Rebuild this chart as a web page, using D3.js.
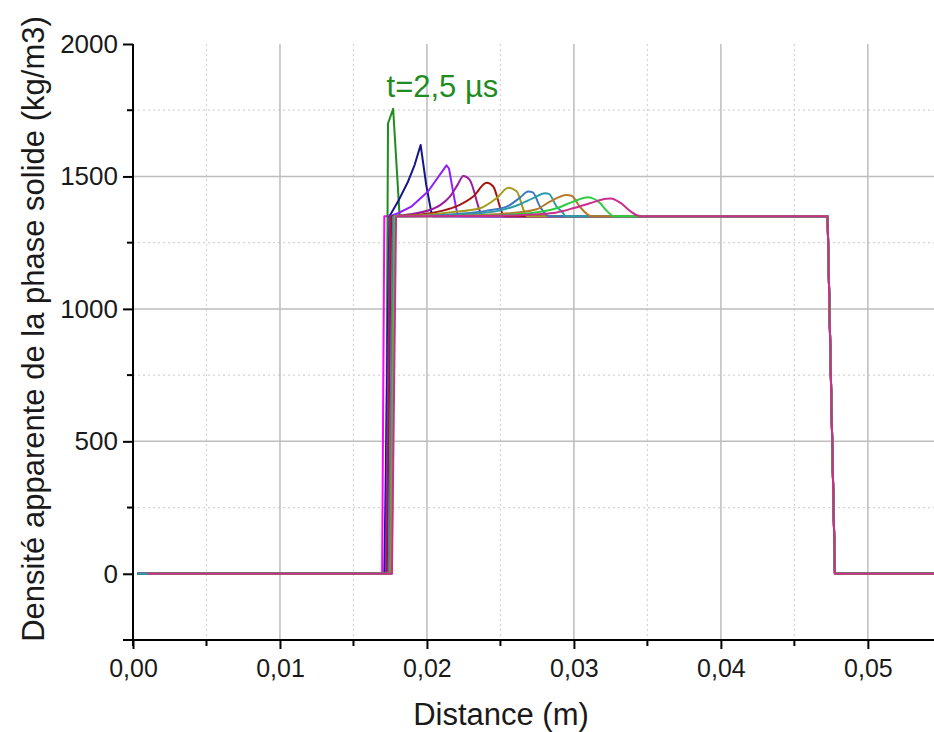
<!DOCTYPE html>
<html>
<head>
<meta charset="utf-8">
<script src="https://cdn.jsdelivr.net/npm/d3@7"></script>
<style>
  html, body { margin: 0; padding: 0; background: #ffffff; }
  svg { display: block; }
  text { font-family: "Liberation Sans", Arial, sans-serif; fill: #1a1a1a; }
</style>
</head>
<body>
<svg id="chart" width="934" height="732"></svg>
<script>
// ---------- data ----------
const xTicks = [0, 0.01, 0.02, 0.03, 0.04, 0.05];
const xTickLabels = ["0,00", "0,01", "0,02", "0,03", "0,04", "0,05"];
const xMinorTicks = [0.005, 0.015, 0.025, 0.035, 0.045];
const yTicks = [0, 500, 1000, 1500, 2000];
const yTickLabels = ["0", "500", "1000", "1500", "2000"];
const yMinorTicks = [-250, 250, 750, 1250, 1750];

const seriesNames = ["t=0", "t=2,5 µs", "s2", "s3", "s4", "s5", "s6", "s7", "s8", "s9", "s10", "s11"];
const seriesColors = ["#ff00ff", "#1e8c1e", "#14148c", "#9020ff", "#9c1c9c", "#a31515",
                      "#a39c1c", "#3a78c0", "#2a9ca8", "#b8782a", "#2ecc40", "#cc2e8c"];
// curves whose wave part is drawn smoothly (the later, rounded ones)
const smoothWave = [false, false, false, false, true, true, true, true, true, true, true, true];

// x (m) and density (kg/m3), one pair of arrays per curve
const s0x = [0.0003, 0.01695, 0.0171, 0.04726, 0.04776, 0.0545];
const s0y = [0, 0, 1350, 1350, 0, 0];
const s1x = [0.0003, 0.0172, 0.01735, 0.0177, 0.01814, 0.04726, 0.04776, 0.0545];
const s1y = [0, 0, 1700, 1755, 1350, 1350, 0, 0];
const s2x = [0.0003, 0.0171, 0.01745, 0.01803, 0.01871, 0.01916, 0.01957, 0.01995, 0.02029, 0.02041, 0.04726, 0.04776, 0.0545];
const s2y = [0, 0, 1350, 1405, 1480, 1543, 1619, 1468, 1367, 1350, 1350, 0, 0];
const s3x = [0.0003, 0.0172, 0.0175, 0.01803, 0.01893, 0.02007, 0.02133, 0.0215, 0.02184, 0.02206, 0.02218, 0.04726, 0.04776, 0.0545];
const s3y = [0, 0, 1350, 1361, 1386, 1443, 1542, 1530, 1424, 1361, 1350, 1350, 0, 0];
const s4x = [0.0003, 0.01725, 0.0175, 0.019, 0.0205, 0.0209, 0.02156, 0.0221, 0.02247, 0.0229, 0.02361, 0.02374, 0.04726, 0.04776, 0.0545];
const s4y = [0, 0, 1350, 1358, 1380, 1392, 1424, 1470, 1502, 1488, 1367, 1350, 1350, 0, 0];
const s5x = [0.0003, 0.0173, 0.0176, 0.0196, 0.021, 0.0222, 0.02315, 0.02406, 0.02451, 0.02508, 0.02524, 0.04726, 0.04776, 0.0545];
const s5y = [0, 0, 1350, 1356, 1370, 1392, 1424, 1476, 1462, 1367, 1350, 1350, 0, 0];
const s6x = [0.0003, 0.0174, 0.0177, 0.02, 0.0215, 0.02361, 0.02474, 0.02555, 0.0261, 0.02667, 0.0268, 0.04726, 0.04776, 0.0545];
const s6y = [0, 0, 1350, 1355, 1364, 1380, 1418, 1457, 1444, 1361, 1350, 1350, 0, 0];
const s7x = [0.0003, 0.0174, 0.0177, 0.0205, 0.0225, 0.024, 0.0255, 0.02633, 0.02689, 0.0272, 0.02769, 0.02814, 0.0283, 0.04726, 0.04776, 0.0545];
const s7y = [0, 0, 1350, 1353, 1360, 1370, 1388, 1420, 1443, 1440, 1386, 1355, 1350, 1350, 0, 0];
const s8x = [0.0003, 0.0175, 0.0178, 0.021, 0.023, 0.025, 0.0262, 0.02723, 0.02803, 0.0283, 0.02882, 0.02927, 0.0294, 0.04726, 0.04776, 0.0545];
const s8y = [0, 0, 1350, 1352, 1358, 1372, 1392, 1418, 1437, 1434, 1386, 1361, 1350, 1350, 0, 0];
const s9x = [0.001, 0.0175, 0.0178, 0.022, 0.024, 0.026, 0.02746, 0.02837, 0.0295, 0.02984, 0.0304, 0.03097, 0.03122, 0.04726, 0.04776, 0.0545];
const s9y = [0, 0, 1350, 1351, 1355, 1363, 1376, 1405, 1430, 1427, 1386, 1355, 1350, 1350, 0, 0];
const s10x = [0.001, 0.0176, 0.0178, 0.024, 0.026, 0.0275, 0.02882, 0.02995, 0.03097, 0.0312, 0.03177, 0.03224, 0.03272, 0.04726, 0.04776, 0.0545];
const s10y = [0, 0, 1350, 1352, 1357, 1365, 1380, 1405, 1421, 1419, 1400, 1370, 1350, 1350, 0, 0];
const s11x = [0.001, 0.01762, 0.0179, 0.024, 0.026, 0.0275, 0.02882, 0.02995, 0.03109, 0.0322, 0.0325, 0.0332, 0.03388, 0.03444, 0.0346, 0.04726, 0.04776, 0.0545];
const s11y = [0, 0, 1350, 1351, 1353, 1357, 1364, 1380, 1399, 1416, 1417, 1399, 1367, 1351, 1350, 1350, 0, 0];

const seriesX = [s0x, s1x, s2x, s3x, s4x, s5x, s6x, s7x, s8x, s9x, s10x, s11x];
const seriesY = [s0y, s1y, s2y, s3y, s4y, s5y, s6y, s7y, s8y, s9y, s10y, s11y];

const annotationText = "t=2,5 \u00b5s";
const annotationAt = [0.01725, 1800];
const xTitle = "Distance (m)";
const yTitle = "Densité apparente de la phase solide (kg/m3)";

// ---------- layout ----------
(function () {
const svg = d3.select("#chart");
const W = 934, H = 732;
const mLeft = 133, mRight = 934, mTop = 44, mBottom = 640;
const FONT = "'Liberation Sans', Arial, sans-serif";

const x = d3.scaleLinear().domain([0, 0.0545]).range([mLeft, mRight]);
const y = d3.scaleLinear().domain([-250, 2000]).range([mBottom, mTop]);

svg.append("rect").attr("width", W).attr("height", H).attr("fill", "#fff");

// grid
const grid = svg.append("g");
grid.selectAll(".vminor").data(xMinorTicks).join("line")
  .attr("x1", d => x(d)).attr("x2", d => x(d)).attr("y1", mTop).attr("y2", mBottom)
  .attr("stroke", "#d4d4d4").attr("stroke-width", 1.2).attr("stroke-dasharray", "2,3");
grid.selectAll(".hminor").data(yMinorTicks.filter(v => v > -250)).join("line")
  .attr("x1", mLeft).attr("x2", mRight).attr("y1", d => y(d)).attr("y2", d => y(d))
  .attr("stroke", "#d4d4d4").attr("stroke-width", 1.2).attr("stroke-dasharray", "2,3");
grid.selectAll(".vmajor").data(xTicks.filter(v => v > 0)).join("line")
  .attr("x1", d => x(d)).attr("x2", d => x(d)).attr("y1", mTop).attr("y2", mBottom)
  .attr("stroke", "#bdbdbd").attr("stroke-width", 1.5);
grid.selectAll(".hmajor").data(yTicks.filter(v => v > 0 && v < 2000)).join("line")
  .attr("x1", mLeft).attr("x2", mRight).attr("y1", d => y(d)).attr("y2", d => y(d))
  .attr("stroke", "#bdbdbd").attr("stroke-width", 1.5);

// series
const lineLin = d3.line().x(d => x(d[0])).y(d => y(d[1])).curve(d3.curveLinear);
const lineSmooth = d3.line().x(d => x(d[0])).y(d => y(d[1])).curve(d3.curveMonotoneX);
const plot = svg.append("g");
seriesX.forEach((xs, i) => {
  const pts = xs.map((v, j) => [v, seriesY[i][j]]);
  const n = pts.length;
  const draw = (data, gen) => plot.append("path").datum(data)
    .attr("d", gen)
    .attr("fill", "none")
    .attr("stroke", seriesColors[i])
    .attr("stroke-width", 2)
    .attr("stroke-linejoin", "round");
  if (smoothWave[i]) {
    draw(pts.slice(0, 3), lineLin);
    draw(pts.slice(2, n - 2), lineSmooth);
    draw(pts.slice(n - 3), lineLin);
  } else {
    draw(pts, lineLin);
  }
});

// axes
const xAxis = d3.axisBottom(x).tickValues(xTicks).tickFormat((d, i) => xTickLabels[i]).tickSize(9).tickSizeOuter(0);
const gx = svg.append("g").attr("transform", `translate(0,${mBottom})`).call(xAxis);
gx.select(".domain").attr("stroke", "#000").attr("stroke-width", 2).attr("d", `M${mLeft - 10},0H${mRight}`);
gx.selectAll(".tick line").attr("stroke", "#000").attr("stroke-width", 2);
gx.selectAll(".tick text").attr("font-size", 25).attr("dy", "0.98em").attr("fill", "#1a1a1a")
  .style("font-family", FONT);
gx.selectAll(".minor").data(xMinorTicks).join("line")
  .attr("x1", d => x(d)).attr("x2", d => x(d)).attr("y1", 0).attr("y2", 6)
  .attr("stroke", "#000").attr("stroke-width", 2);

const yAxis = d3.axisLeft(y).tickValues(yTicks).tickFormat((d, i) => yTickLabels[i]).tickSize(10).tickSizeOuter(0);
const gy = svg.append("g").attr("transform", `translate(${mLeft},0)`).call(yAxis);
gy.select(".domain").attr("stroke", "#000").attr("stroke-width", 2).attr("d", `M0,${mTop}V${mBottom + 6}`);
gy.selectAll(".tick line").attr("stroke", "#000").attr("stroke-width", 2);
gy.selectAll(".tick text").attr("font-size", 26).attr("x", -15).attr("fill", "#1a1a1a")
  .style("font-family", FONT);
gy.selectAll(".minor").data(yMinorTicks).join("line")
  .attr("x1", 0).attr("x2", -6).attr("y1", d => y(d)).attr("y2", d => y(d))
  .attr("stroke", "#000").attr("stroke-width", 2);

// titles
svg.append("text").attr("x", 501).attr("y", 725)
  .attr("text-anchor", "middle").attr("font-size", 31).text(xTitle);
svg.append("text").attr("transform", `translate(44,329) rotate(-90)`)
  .attr("text-anchor", "middle").attr("font-size", 31).text(yTitle);

// annotation
svg.append("text").attr("x", x(annotationAt[0])).attr("y", y(annotationAt[1]))
  .attr("font-size", 31).style("fill", "#1e8c1e").text(annotationText);
})();
</script>
</body>
</html>
